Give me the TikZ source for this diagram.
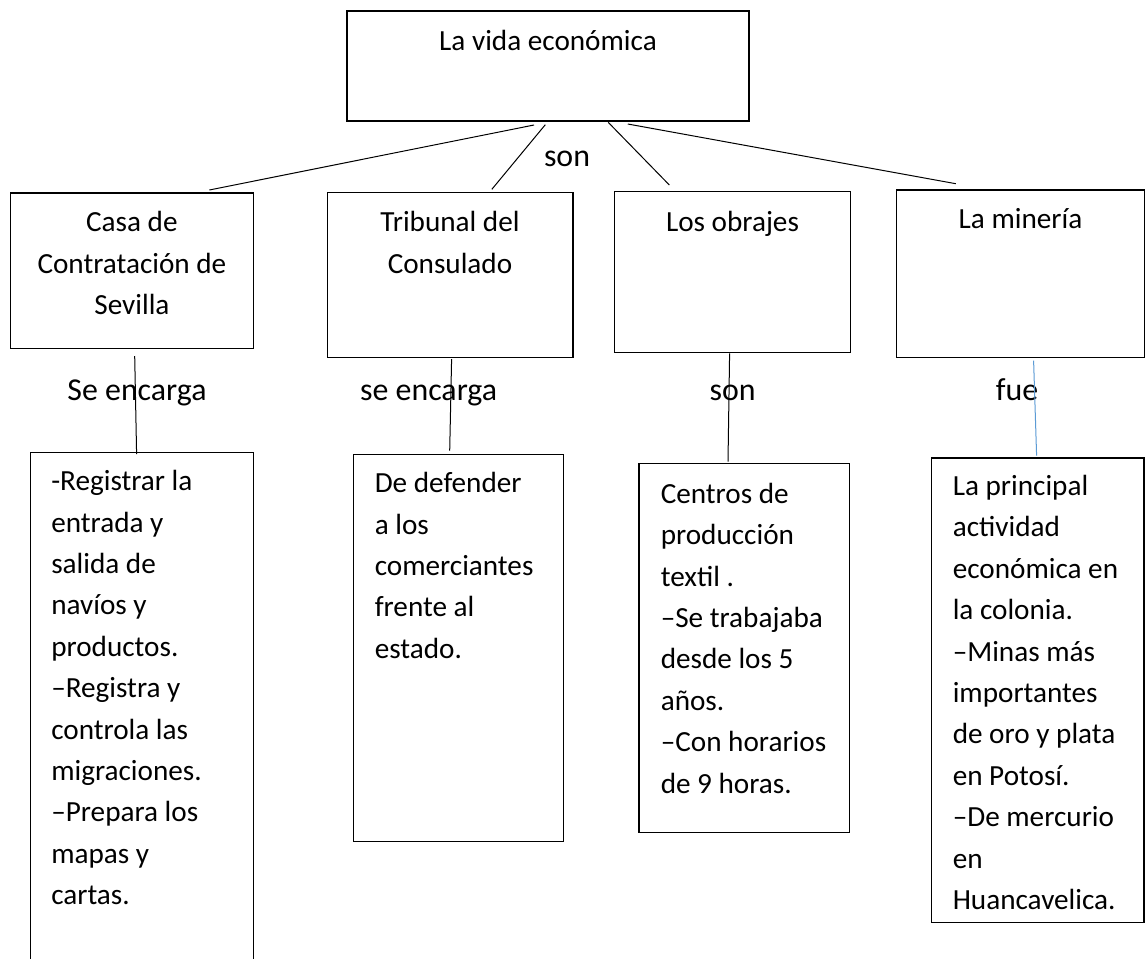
\documentclass[tikz,border=0pt]{standalone}
\usepackage{fontspec}
\setmainfont{Carlito}
\usetikzlibrary{fit}
\newcommand\mybody{\fontsize{21.9pt}{31.05pt}\selectfont}
\newcommand\mylabel{\fontsize{23.9pt}{28pt}\selectfont}
\definecolor{connblue}{HTML}{5B9BD5}
\tikzset{
  box/.style={draw=black, line width=1pt, rectangle, inner sep=0pt, outer sep=0pt},
  ttl/.style={font=\mybody, align=flush center, text width=180pt, inner sep=0pt, anchor=base},
  body/.style={font=\mybody, align=flush left, text width=150pt, inner sep=0pt, anchor=base west},
  lbl/.style={font=\mylabel, inner sep=0pt, anchor=base},
  conn/.style={draw=black, line width=0.75pt},
  connb/.style={draw=connblue, line width=0.75pt}
}
\begin{document}
\begin{tikzpicture}[x=0.75pt,y=-0.75pt]
\useasboundingbox (0,0) rectangle (1146,958);
\fill[white] (0,0) rectangle (1146,958);
\clip (0,0) rectangle (1146,958);

% boxes
\node[box, fit={(347,11) (749,121)}] (top) {};
\node[box, fit={(10.5,193) (253.3,348.3)}] (casa) {};
\node[box, fit={(327.2,192.7) (572.9,357.3)}] (trib) {};
\node[box, fit={(614.6,191.7) (850.5,352.7)}] (obr) {};
\node[box, fit={(896.5,190) (1144.5,357.3)}] (min) {};
\node[box, fit={(30.7,452.5) (253.3,990)}] (reg) {};
\node[box, fit={(353.5,454.2) (563.6,841.7)}] (def) {};
\node[box, fit={(639,463.3) (849.5,832.3)}] (cen) {};
\node[box, fit={(931.5,458) (1144,922.3)}] (pri) {};

% titles
\node[ttl] (ttop) at (548,50) {La vida económica};
\node[ttl] (tcasa) at (131.9,231.7) {Casa de\\Contratación de\\Sevilla};
\node[ttl] (ttrib) at (450,231.7) {Tribunal del\\Consulado};
\node[ttl] (tobr) at (732.5,231) {Los obrajes};
\node[ttl] (tmin) at (1020.5,228) {La minería};

% labels
\node[lbl] (l0) at (567,166) {son};
\node[lbl] (l1) at (137,400.5) {Se encarga};
\node[lbl] (l2) at (428.6,400.5) {se encarga};
\node[lbl] (l3) at (732.6,400) {son};
\node[lbl] (l4) at (1017,400) {fue};

% body texts
\node[body] (breg) at (51,490.7) {-Registrar la\\entrada y\\salida de\\navíos y\\productos.\\–Registra y\\controla las\\migraciones.\\–Prepara los\\mapas y\\cartas.};
\node[body] (bdef) at (374.5,492.7) {De defender\\a los\\comerciantes\\frente al\\estado.};
\node[body] (bcen) at (660.5,503.3) {Centros de\\producción\\textil .\\–Se trabajaba\\desde los 5\\años.\\–Con horarios\\de 9 horas.};
\node[body] (bpri) at (952.5,495.5) {La principal\\actividad\\económica en\\la colonia.\\–Minas más\\importantes\\de oro y plata\\en Potosí.\\–De mercurio\\en\\Huancavelica.};

% connectors
\draw[conn] ([shift={(-14,4)}]top.south) -- ([shift={(77.4,-3)}]casa.north);
\draw[conn] ([shift={(-2.7,3.7)}]top.south) -- ([shift={(41.8,-3.4)}]trib.north);
\draw[conn] ([shift={(60.2,1.3)}]top.south) -- ([shift={(-63.2,-6.7)}]obr.north);
\draw[conn] ([shift={(79.8,3)}]top.south) -- ([shift={(-64.7,-6.3)}]min.north);
\draw[conn] ([shift={(2.8,7.7)}]casa.south) -- ([shift={(-5.4,1.5)}]reg.north);
\draw[conn] ([shift={(1.55,1.7)}]trib.south) -- ([shift={(-8.85,-3.5)}]def.north);
\draw[conn] ([shift={(-2.95,0.6)}]obr.south) -- ([shift={(-16.25,-1.6)}]cen.north);
\draw[connb] ([shift={(13.1,3.4)}]min.south) -- ([shift={(-1.15,-2.3)}]pri.north);
\end{tikzpicture}
\end{document}
